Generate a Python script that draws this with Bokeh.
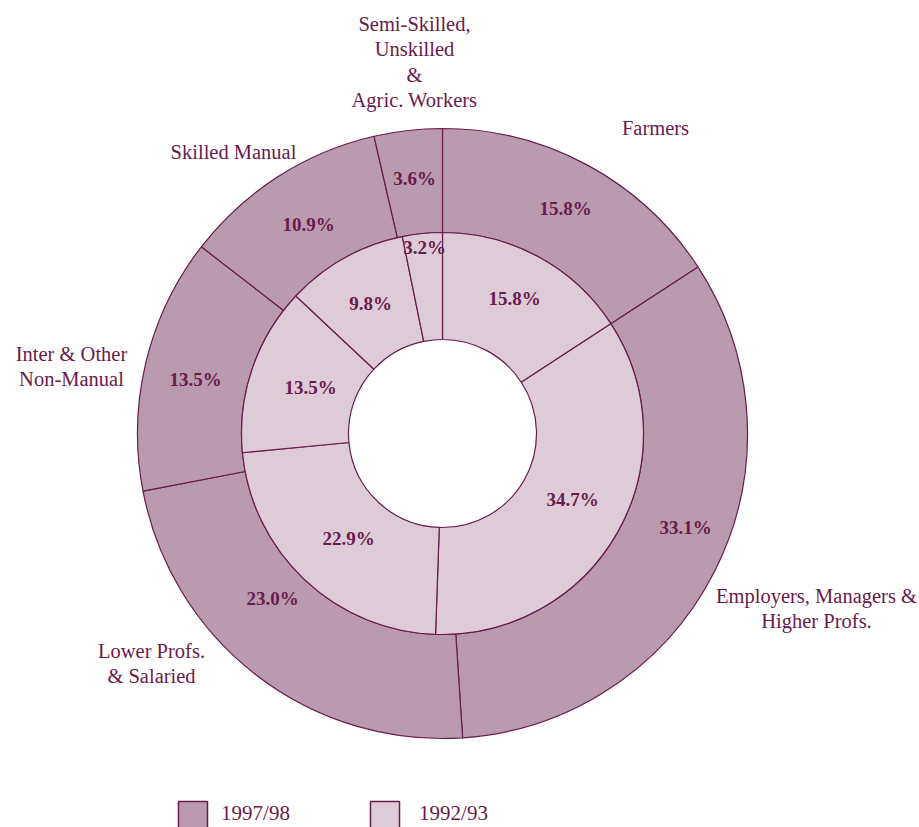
import numpy as np
from bokeh.plotting import figure
from bokeh.models import Range1d, ColumnDataSource
from bokeh.core.properties import value
from bokeh.embed import file_html
from bokeh.resources import INLINE

# ---- data ----
categories = ["Farmers", "Employers, Managers & Higher Profs.", "Lower Profs. & Salaried",
              "Inter & Other Non-Manual", "Skilled Manual", "Semi-Skilled, Unskilled & Agric. Workers"]
share_1997 = [15.8, 33.1, 23.0, 13.5, 10.9, 3.6]
share_1992 = [15.8, 34.7, 22.9, 13.5, 9.8, 3.2]
series_names = ["1997/98", "1992/93"]
category_label_lines = [["Farmers"], ["Employers, Managers &", "Higher Profs."],
                        ["Lower Profs.", "& Salaried"], ["Inter & Other", "Non-Manual"],
                        ["Skilled Manual"], ["Semi-Skilled,", "Unskilled", "&", "Agric. Workers"]]

# ---- layout (pixel coords of the reference picture) ----
W, H = 919, 827
def X(xi): return xi
def Y(yi): return H - yi

CX, CY = X(442), Y(433)
R_HOLE, R_MID, R_OUT = 94, 201, 305
pct_pos_1997 = [(565, 208), (685, 527), (272, 598), (195, 379), (308, 224), (414, 178)]
pct_pos_1992 = [(514, 298), (572, 499), (348, 538), (310, 387), (370, 303), (424, 247)]
cat_pos = [(655, 127), (816, 595), (151, 650), (71, 353), (233, 151), (414, 23)]
LINE_GAP = 25.5

OUTER_FILL = "#BA9AAE"
INNER_FILL = "#DDCBD7"
DARK = "#6A1A4C"
SERIF = "Liberation Serif"

def wedges(vals):
    v = np.array(vals, dtype=float)
    frac = v / v.sum()
    cum = np.concatenate([[0], np.cumsum(frac)])
    start = np.pi / 2 - 2 * np.pi * cum[1:]
    end = np.pi / 2 - 2 * np.pi * cum[:-1]
    return start, end

p = figure(width=W, height=H, output_backend="svg", toolbar_location=None,
           x_range=Range1d(0, W), y_range=Range1d(0, H),
           x_axis_type=None, y_axis_type=None, min_border=0,
           outline_line_color=None, background_fill_color="white")
p.xgrid.visible = False
p.ygrid.visible = False

s0, e0 = wedges(share_1997)
p.annular_wedge(x=CX, y=CY, inner_radius=R_MID, outer_radius=R_OUT,
                start_angle=s0, end_angle=e0, fill_color=OUTER_FILL,
                line_color=DARK, line_width=1.2)
s1, e1 = wedges(share_1992)
p.annular_wedge(x=CX, y=CY, inner_radius=R_HOLE, outer_radius=R_MID,
                start_angle=s1, end_angle=e1, fill_color=INNER_FILL,
                line_color=DARK, line_width=1.2)

# percentage labels
for vals, pos in ((share_1997, pct_pos_1997), (share_1992, pct_pos_1992)):
    src = ColumnDataSource(dict(x=[X(a) for a, b in pos], y=[Y(b) for a, b in pos],
                                t=["%.1f%%" % v for v in vals]))
    p.text(x="x", y="y", text="t", source=src, text_font=value(SERIF),
           text_font_size="19px", text_font_style="bold", text_color=DARK,
           text_align="center", text_baseline="middle")

# category labels
xs, ys, ts = [], [], []
for lines, (a, b) in zip(category_label_lines, cat_pos):
    for k, ln in enumerate(lines):
        xs.append(X(a)); ys.append(Y(b + k * LINE_GAP)); ts.append(ln)
p.text(x=xs, y=ys, text=ts, text_font=value(SERIF), text_font_size="20.5px",
       text_color=DARK, text_align="center", text_baseline="middle")

# legend
leg_sq = [(178, 207), (370, 399)]
leg_txt = [(255, 812), (453, 812)]
p.quad(left=[X(a) for a, b in leg_sq], right=[X(b) for a, b in leg_sq],
       top=[Y(801)] * 2, bottom=[Y(829)] * 2,
       fill_color=[OUTER_FILL, INNER_FILL], line_color=DARK, line_width=1.5)
p.text(x=[X(a) for a, b in leg_txt], y=[Y(b) for a, b in leg_txt], text=series_names,
       text_font=value(SERIF), text_font_size="21px", text_color=DARK,
       text_align="center", text_baseline="middle")

open("out.html", "w").write(file_html(p, INLINE))
